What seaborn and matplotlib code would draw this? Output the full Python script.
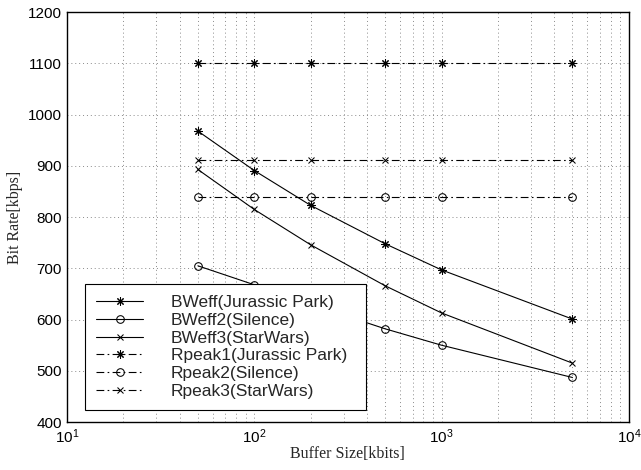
import numpy as np
import pandas as pd
import matplotlib
matplotlib.use('Agg')
import matplotlib.pyplot as plt
import seaborn as sns

sns.set_style('white')
plt.rcParams['font.family'] = ['Liberation Sans', 'DejaVu Sans']

buffer_kbits = [50, 100, 200, 500, 1000, 5000]
bweff_jurassic = [968, 891, 823, 748, 697, 601]
bweff_silence = [705, 668, 630, 582, 550, 487]
bweff_starwars = [893, 815, 746, 666, 613, 515]
rpeak_jurassic = [1100, 1100, 1100, 1100, 1100, 1100]
rpeak_silence = [840, 840, 840, 840, 840, 840]
rpeak_starwars = [912, 912, 912, 912, 912, 912]

# matlab-ish asterisk
star = (8, 2, 0)
dashdot = (0, (7, 3, 1.5, 3))
series = [
	('BWeff(Jurassic Park)', bweff_jurassic, star, '-', 6),
	('BWeff2(Silence)', bweff_silence, 'o', '-', 5.5),
	('BWeff3(StarWars)', bweff_starwars, 'x', '-', 4),
	('Rpeak1(Jurassic Park)', rpeak_jurassic, star, dashdot, 6),
	('Rpeak2(Silence)', rpeak_silence, 'o', dashdot, 5.5),
	('Rpeak3(StarWars)', rpeak_starwars, 'x', dashdot, 4),
]

fig = plt.figure(figsize=(6.41, 4.70), dpi=100)
ax = fig.add_axes([0.1045, 0.102, 0.8765, 0.872])

for name, vals, mk, ls, ms in series:
	df = pd.DataFrame({'x': buffer_kbits, 'y': vals})
	sns.lineplot(data=df, x='x', y='y', ax=ax, color='black', linestyle=ls,
		linewidth=0.8, marker=mk, markersize=ms, markerfacecolor='none',
		markeredgecolor='black', markeredgewidth=0.75, label=name)

ax.set_xscale('log')
ax.set_xlim(10, 10000)
ax.set_ylim(400, 1200)
ax.set_yticks(np.arange(400, 1201, 100))
ax.grid(True, which='major', axis='both', color='#8a8a8a', linestyle=(0, (1, 3)), linewidth=0.7)
ax.grid(True, which='minor', axis='x', color='#8a8a8a', linestyle=(0, (1, 3)), linewidth=0.7)
ax.tick_params(axis='both', which='major', direction='in', length=4, labelsize=11, colors='black')
ax.tick_params(axis='x', which='minor', direction='in', length=2)
for sp in ax.spines.values():
	sp.set_color('black')
	sp.set_linewidth(1.0)

ax.set_xlabel('Buffer Size[kbits]', fontsize=11.5, family=['Liberation Serif', 'DejaVu Serif'], labelpad=0)
ax.set_ylabel('Bit Rate[kbps]', fontsize=11.5, family=['Liberation Serif', 'DejaVu Serif'], labelpad=4)

leg = ax.legend(loc='lower left', bbox_to_anchor=(0.032, 0.029, 0.50, 0.337), mode='expand',
	fontsize=12.5, frameon=True, fancybox=False, edgecolor='black', framealpha=1,
	handlelength=2.7, handletextpad=1.6, borderaxespad=0, labelspacing=0.15, borderpad=0.65)
leg.get_frame().set_linewidth(0.8)

fig.savefig('out.png', dpi=100)
